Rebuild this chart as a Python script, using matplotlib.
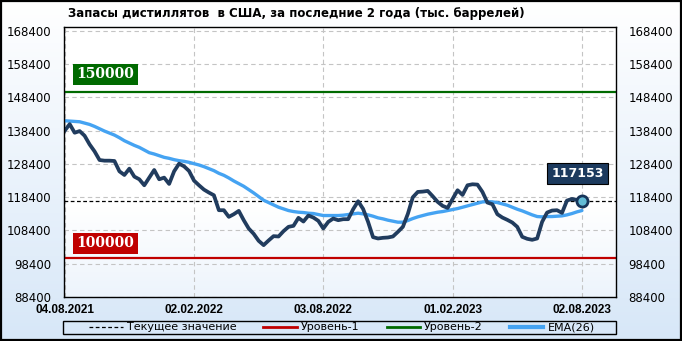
import numpy as np
import pandas as pd
import matplotlib
matplotlib.use('Agg')
import matplotlib.pyplot as plt
import matplotlib.dates as mdates
from matplotlib.lines import Line2D
from matplotlib.patches import Rectangle
from matplotlib.transforms import blended_transform_factory

# Данные: недельные запасы дистиллятов (тыс. баррелей), 04.08.2021 - 02.08.2023
start = '2021-08-04'
stocks = [
    138400, 140400, 137800, 138300, 136900, 134300, 132200, 129600, 129400, 129400,
    129300, 126200, 125100, 127000, 124600, 123800, 122000, 124300, 126600, 123800,
    124300, 122400, 126200, 128500, 127700, 126300, 123400, 122000, 120700, 119800,
    119000, 114500, 114500, 112500, 113300, 114300, 111500, 109000, 107400, 105300,
    104000, 105400, 106700, 106600, 108200, 109500, 109800, 112200, 111100, 112900,
    112300, 111300, 109000, 111000, 112000, 111500, 111800, 111800, 114800, 117200,
    114900, 111000, 106400, 106000, 106200, 106300, 106600, 108000, 109500, 113400,
    118400, 120000, 120100, 120300, 118700, 117000, 115800, 115200, 117900, 120500,
    119100, 122000, 122300, 122200, 120000, 116800, 116300, 113300, 112300, 111600,
    110800, 109500, 106500, 105900, 105600, 106000, 111000, 113800, 114400, 114500,
    113700, 117400, 117900, 117600, 117153,
]
ema26 = [
    141400, 141300, 141200, 141100, 140700, 140300, 139700, 139000, 138300, 137700,
    137100, 136300, 135400, 134700, 134000, 133400, 132600, 131800, 131400, 130900,
    130400, 130100, 129700, 129400, 129200, 128900, 128500, 128100, 127600, 127000,
    126400, 125600, 125000, 124200, 123300, 122500, 121700, 120700, 119700, 118600,
    117500, 116800, 116100, 115400, 114900, 114400, 114100, 113900, 113800, 113600,
    113500, 113200, 112900, 112900, 112900, 112900, 113000, 113200, 113400, 113600,
    113400, 113100, 112700, 112200, 111900, 111500, 111200, 110900, 110900, 111400,
    112000, 112500, 112900, 113300, 113600, 113900, 114100, 114400, 114700, 115000,
    115400, 115800, 116200, 116600, 117000, 117100, 117000, 116800, 116400, 116000,
    115400, 114800, 114300, 113700, 113100, 112600, 112500, 112600, 112600, 112700,
    112800, 113100, 113500, 114000, 114400,
]
level1 = 100000
level2 = 150000
y_ticks = [88400, 98400, 108400, 118400, 128400, 138400, 148400, 158400, 168400]
x_ticks = ['2021-08-04', '2022-02-02', '2022-08-03', '2023-02-01', '2023-08-02']

dates = pd.date_range(start, periods=len(stocks), freq='7D')
last = stocks[-1]

fig = plt.figure(figsize=(6.82, 3.41), dpi=100)

# фон фигуры: градиент от белого к светло-голубому
bg = fig.add_axes([0, 0, 1, 1], zorder=-10)
grad = np.linspace(0, 1, 256).reshape(-1, 1)
cmap_bg = matplotlib.colors.LinearSegmentedColormap.from_list('bg', ['#ffffff', '#d7e7f8'])
bg.imshow(grad, aspect='auto', cmap=cmap_bg, extent=[0, 1, 0, 1], origin='upper')
bg.set_axis_off()
fig.patches.append(Rectangle((0.002, 0.003), 0.996, 0.994, transform=fig.transFigure,
                             fill=False, edgecolor='black', linewidth=1.6, zorder=5))

ax = fig.add_axes([64 / 682, 44 / 341, 552 / 682, 270 / 341])
cmap_ax = matplotlib.colors.LinearSegmentedColormap.from_list(
    'ax', ['#ffffff', '#ffffff', '#ffffff', '#edf4fc'])
ax.imshow(grad, aspect='auto', cmap=cmap_ax, extent=[0, 1, 0, 1], origin='upper',
          transform=ax.transAxes, zorder=0)

ax.plot(dates, ema26, color='#45a3f2', linewidth=2.4, zorder=3, solid_capstyle='round')
ax.plot(dates, stocks, color='#213c5e', linewidth=2.7, zorder=4, solid_joinstyle='round')
ax.axhline(level1, color='#c00000', linewidth=1.6, zorder=2)
ax.axhline(level2, color='#006a00', linewidth=1.6, zorder=2)
ax.axhline(last, color='black', linewidth=0.9, linestyle=(0, (3, 2)), zorder=2)
ax.plot(dates[-1], last, 'o', markersize=8, markerfacecolor='#63bcd6',
        markeredgecolor='#163459', markeredgewidth=2, zorder=6)

ax.set_xlim(pd.Timestamp(start) - pd.Timedelta(days=1), pd.Timestamp(start) + pd.Timedelta(days=776))
ax.set_ylim(88400, 169600)
ax.set_yticks(y_ticks)
ax.set_xticks(pd.to_datetime(x_ticks))
ax.xaxis.set_major_formatter(mdates.DateFormatter('%d.%m.%Y'))
ax.grid(True, color='#c4c4c4', linestyle=(0, (4, 3)), linewidth=0.8)
ax.set_axisbelow(True)
for s in ax.spines.values():
    s.set_linewidth(1)
    s.set_color('black')
    s.set_zorder(7)
ax.tick_params(axis='x', length=0, pad=5)
ax.tick_params(axis='y', length=0, pad=9, labelsize=8.5)
for lbl in ax.get_xticklabels():
    lbl.set_fontfamily('Liberation Sans')
    lbl.set_fontweight('bold')
    lbl.set_fontsize(8.5)

ax2 = ax.twinx()
ax2.set_ylim(ax.get_ylim())
ax2.set_yticks(y_ticks)
ax2.tick_params(axis='y', length=0, pad=9, labelsize=8.5)
for s in ax2.spines.values():
    s.set_visible(False)

# подписи уровней
tr = blended_transform_factory(ax.transAxes, ax.transData)
ax.text(0.075, level2 + 5400, f'{level2}', transform=tr, ha='center', va='center',
        color='white', fontsize=10, fontweight='bold', family='DejaVu Serif', zorder=8,
        bbox=dict(boxstyle='square,pad=0.25', facecolor='#006a00', edgecolor='none'))
ax.text(0.075, level1 + 4500, f'{level1}', transform=tr, ha='center', va='center',
        color='white', fontsize=10, fontweight='bold', family='DejaVu Serif', zorder=8,
        bbox=dict(boxstyle='square,pad=0.25', facecolor='#c00000', edgecolor='none'))
ax.annotate(f'{last}', xy=(dates[-1], last), xytext=(-3, 20), textcoords='offset points',
            ha='center', va='center', color='white', fontsize=9, fontweight='bold', zorder=8,
            bbox=dict(boxstyle='square,pad=0.35', facecolor='#1c3a5e', edgecolor='black', linewidth=0.8))

fig.text(68 / 682, 1 - 13 / 341, 'Запасы дистиллятов  в США, за последние 2 года (тыс. баррелей)',
         ha='left', va='center', fontsize=8.5, fontweight='bold')

# легенда
handles = [
    Line2D([], [], color='black', linewidth=0.9, linestyle=(0, (3, 2))),
    Line2D([], [], color='#c00000', linewidth=2),
    Line2D([], [], color='#006a00', linewidth=2),
    Line2D([], [], color='#45a3f2', linewidth=3),
]
labels = ['Текущее значение', 'Уровень-1', 'Уровень-2', 'EMA(26)']
fig.legend(handles, labels, loc='center', bbox_to_anchor=(342 / 682, 1 - 327.5 / 341), ncol=4,
           frameon=False, fontsize=8, handlelength=3.0, handletextpad=0.4, columnspacing=2.4)
fig.patches.append(Rectangle((63 / 682, 1 - 334 / 341), 553 / 682, 13.5 / 341,
                             transform=fig.transFigure, fill=False, edgecolor='black', linewidth=1))

fig.savefig('out.png', dpi=100)
